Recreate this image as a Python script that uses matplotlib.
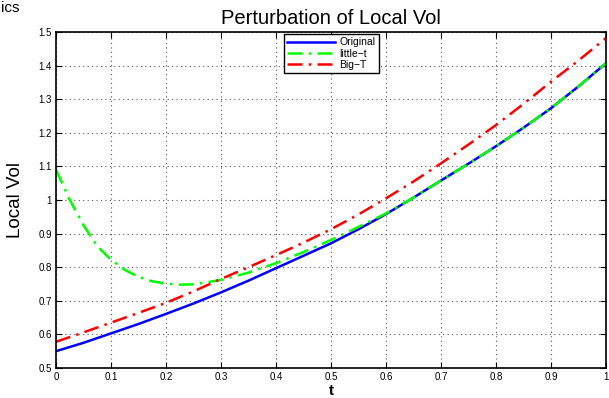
import matplotlib
matplotlib.use("Agg")
import matplotlib.pyplot as plt

plt.rcParams['font.family'] = ['Liberation Sans', 'DejaVu Sans']

# data
t = [0.0, 0.05, 0.1, 0.15, 0.2, 0.25, 0.3, 0.35, 0.4, 0.45, 0.5,
     0.55, 0.6, 0.65, 0.7, 0.75, 0.8, 0.85, 0.9, 0.95, 1.0]
original = [0.550, 0.575, 0.603, 0.631, 0.661, 0.692, 0.725, 0.760, 0.797, 0.834, 0.871,
            0.913, 0.958, 1.007, 1.058, 1.108, 1.160, 1.215, 1.273, 1.338, 1.407]
big_T = [0.578, 0.606, 0.635, 0.664, 0.694, 0.728, 0.765, 0.800, 0.836, 0.873, 0.913,
         0.957, 1.005, 1.055, 1.109, 1.165, 1.223, 1.286, 1.352, 1.415, 1.482]
t_little = [0.0, 0.025, 0.05, 0.075, 0.1, 0.125, 0.15, 0.175, 0.2, 0.225, 0.25,
            0.3, 0.35, 0.4, 0.45, 0.5, 0.55, 0.6, 0.65, 0.7, 0.75, 0.8, 0.85, 0.9, 0.95, 1.0]
little_t = [1.090, 1.000, 0.925, 0.862, 0.822, 0.792, 0.771, 0.758, 0.751, 0.748, 0.749,
            0.762, 0.784, 0.812, 0.845, 0.881, 0.920, 0.960, 1.007, 1.058, 1.108, 1.160,
            1.215, 1.273, 1.338, 1.407]

xticks = [0, 0.1, 0.2, 0.3, 0.4, 0.5, 0.6, 0.7, 0.8, 0.9, 1]
xtick_labels = ['0', '0.1', '0.2', '0.3', '0.4', '0.5', '0.6', '0.7', '0.8', '0.9', '1']
yticks = [0.5, 0.6, 0.7, 0.8, 0.9, 1.0, 1.1, 1.2, 1.3, 1.4, 1.5]
ytick_labels = ['0.5', '0.6', '0.7', '0.8', '0.9', '1', '1.1', '1.2', '1.3', '1.4', '1.5']

fig = plt.figure(figsize=(6.09, 3.98), dpi=100)
ax = fig.add_axes([0.092, 0.0754, 0.903, 0.8442])

ax.plot(t, original, color='#0000ff', lw=1.8, label='Original')
ax.plot(t_little, little_t, color='#00ff00', lw=1.8, ls=(0, (6, 2.5, 1, 2.5)), label='little\u2212t')
ax.plot(t, big_T, color='#ff0000', lw=1.8, ls=(0, (6, 2.5, 1, 2.5)), label='Big\u2212T')

ax.set_xlim(0, 1)
ax.set_ylim(0.5, 1.5)
ax.set_xticks(xticks)
ax.set_xticklabels(xtick_labels)
ax.set_yticks(yticks)
ax.set_yticklabels(ytick_labels)
ax.tick_params(direction='in', top=True, right=True, labelsize=7, length=4, width=0.8, pad=3)
ax.grid(True, ls=(0, (1, 3)), color='#555555', lw=0.8)
for s in ax.spines.values():
    s.set_linewidth(1.2)

ax.set_title('Perturbation of Local Vol', fontsize=14.5, pad=6)
ax.set_ylabel('Local Vol', fontsize=13.5, labelpad=10)
ax.set_xlabel('t', fontsize=11, fontweight='bold', labelpad=1)

leg = ax.legend(loc='upper center', bbox_to_anchor=(0.501, 0.993), fontsize=7.5,
                frameon=True, fancybox=False, edgecolor='black', framealpha=1,
                handlelength=4.6, borderpad=0.3, labelspacing=0.1, handletextpad=0.4,
                borderaxespad=0)
leg.get_frame().set_linewidth(1.0)

# leftover text in the top-left corner of the original image
fig.text(0.002, 0.998, 'ics', fontsize=11, va='top', ha='left')

fig.savefig('out.png', dpi=100)
